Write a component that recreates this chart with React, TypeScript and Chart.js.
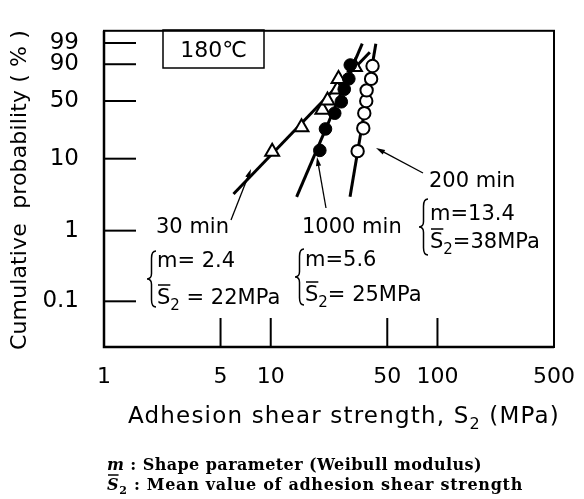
import React, { useEffect, useRef } from 'react';
import { Chart, registerables } from 'chart.js';

Chart.register(...registerables);

// ---------------- data ----------------
const yTickPercents = [0.1, 1, 10, 50, 90, 99];
const yTickLabels = ['0.1', '1', '10', '50', '90', '99'];
const xTickValues = [1, 5, 10, 50, 100, 500];
const xTickLabels = ['1', '5', '10', '50', '100', '500'];
const xInnerTicks = [5, 10, 50, 100];
const yRangePct = [0.0225, 99.895];
const xRange = [1, 500];

// 30 min (open triangles)
const s30 = [10.2, 15.3, 20.4, 21.9, 25.1, 25.5, 32.0];
const f30 = [12.4, 25.4, 40.6, 50.7, 63.6, 76.0, 87.8];
// 1000 min (filled circles)
const s1000 = [19.7, 21.3, 24.2, 26.5, 27.6, 29.4, 30.0];
const f1000 = [12.9, 24.3, 37.2, 49.1, 63.8, 76.1, 89.4];
// 200 min (open circles)
const s200 = [33.2, 35.9, 36.4, 37.4, 37.6, 40.0, 40.8];
const f200 = [12.6, 24.8, 37.2, 50.0, 62.5, 76.0, 88.6];

// fitted Weibull lines (end points)
const fit30S = [5.98, 39.3];
const fit30F = [3.27, 96.7];
const fit1000S = [14.3, 35.4];
const fit1000F = [2.99, 98.9];
const fit200S = [29.9, 42.7];
const fit200F = [2.99, 98.9];

// ---------------- helpers ----------------
const weib = (p: number) => Math.log(-Math.log(1 - p / 100));
const pts = (s: number[], f: number[]) => s.map((v, i) => ({ x: v, y: weib(f[i]) }));

const SANS = '"DejaVu Sans", sans-serif';
const SERIF = '"DejaVu Serif", "Liberation Serif", serif';

type Piece = { text: string; font: string; dy?: number; overline?: boolean };

function drawRun(ctx: CanvasRenderingContext2D, pieces: Piece[], x: number, y: number, target?: number) {
  ctx.save();
  (ctx as any).letterSpacing = '0px';
  let natural = 0;
  let chars = 0;
  const widths = pieces.map((p) => {
    ctx.font = p.font;
    const w = ctx.measureText(p.text).width;
    natural += w;
    chars += p.text.length;
    return w;
  });
  const ls = target ? (target - natural) / Math.max(1, chars) : 0;
  let cx = x;
  pieces.forEach((p, i) => {
    ctx.font = p.font;
    (ctx as any).letterSpacing = ls + 'px';
    ctx.textBaseline = 'alphabetic';
    ctx.textAlign = 'left';
    ctx.fillText(p.text, cx, y + (p.dy || 0));
    const w = widths[i] + ls * p.text.length;
    if (p.overline) {
      const m = ctx.measureText(p.text);
      const top = y + (p.dy || 0) - m.actualBoundingBoxAscent - 3;
      ctx.lineWidth = 1.5;
      ctx.beginPath();
      ctx.moveTo(cx + 1, top);
      ctx.lineTo(cx + widths[i], top);
      ctx.stroke();
    }
    cx += w;
  });
  ctx.restore();
  return cx;
}

function drawBrace(ctx: CanvasRenderingContext2D, x: number, yTop: number, yBot: number, w: number) {
  const ym = (yTop + yBot) / 2;
  const xm = x + w * 0.5;
  ctx.save();
  ctx.lineWidth = 1.5;
  ctx.beginPath();
  ctx.moveTo(x + w, yTop);
  ctx.quadraticCurveTo(xm, yTop, xm, yTop + w * 0.8);
  ctx.lineTo(xm, ym - w * 0.6);
  ctx.quadraticCurveTo(xm, ym, x, ym);
  ctx.quadraticCurveTo(xm, ym, xm, ym + w * 0.6);
  ctx.lineTo(xm, yBot - w * 0.8);
  ctx.quadraticCurveTo(xm, yBot, x + w, yBot);
  ctx.stroke();
  ctx.restore();
}

function drawArrow(ctx: CanvasRenderingContext2D, x0: number, y0: number, x1: number, y1: number) {
  const a = Math.atan2(y1 - y0, x1 - x0);
  const len = 9;
  const hw = 2.6;
  ctx.save();
  ctx.lineWidth = 1.3;
  ctx.beginPath();
  ctx.moveTo(x0, y0);
  ctx.lineTo(x1 - Math.cos(a) * len * 0.8, y1 - Math.sin(a) * len * 0.8);
  ctx.stroke();
  ctx.beginPath();
  ctx.moveTo(x1, y1);
  ctx.lineTo(x1 - Math.cos(a) * len - Math.sin(a) * hw, y1 - Math.sin(a) * len + Math.cos(a) * hw);
  ctx.lineTo(x1 - Math.cos(a) * len + Math.sin(a) * hw, y1 - Math.sin(a) * len - Math.cos(a) * hw);
  ctx.closePath();
  ctx.fill();
  ctx.restore();
}

const ANN = 21;
const annFont = `${ANN}px ${SANS}`;
const subFont = `15px ${SANS}`;

const decor = {
  id: 'decor',
  afterDraw(chart: any) {
    const ctx: CanvasRenderingContext2D = chart.ctx;
    const { left, right, top, bottom } = chart.chartArea;
    const xs = chart.scales.x;
    const ys = chart.scales.y;
    ctx.save();
    ctx.strokeStyle = '#000';
    ctx.fillStyle = '#000';

    // frame
    ctx.lineWidth = 2;
    ctx.strokeRect(left, top, right - left, bottom - top);
    ctx.lineWidth = 2.5;
    ctx.beginPath();
    ctx.moveTo(left, top);
    ctx.lineTo(left, bottom);
    ctx.lineTo(right, bottom);
    ctx.stroke();

    // inward ticks
    ctx.lineWidth = 2;
    yTickPercents.forEach((p) => {
      const y = ys.getPixelForValue(weib(p));
      ctx.beginPath();
      ctx.moveTo(left, y);
      ctx.lineTo(left + 32, y);
      ctx.stroke();
    });
    xInnerTicks.forEach((v) => {
      const x = xs.getPixelForValue(v);
      ctx.beginPath();
      ctx.moveTo(x, bottom);
      ctx.lineTo(x, bottom - 29);
      ctx.stroke();
    });

    // 180℃ box
    ctx.lineWidth = 1.5;
    ctx.strokeRect(163, 30, 101, 38);
    ctx.font = `22px ${SANS}`;
    ctx.textAlign = 'center';
    ctx.textBaseline = 'alphabetic';
    ctx.fillText('180\u2103', 213.5, 57);

    // annotations: 30 min
    drawRun(ctx, [{ text: '30 min', font: annFont }], 156, 233);
    drawArrow(ctx, 231, 220, 251, 169);
    drawBrace(ctx, 147, 251, 307, 9);
    drawRun(ctx, [{ text: 'm= 2.4', font: annFont }], 157, 267);
    drawRun(ctx, [
      { text: 'S', font: annFont, overline: true },
      { text: '2', font: subFont, dy: 6 },
      { text: ' = 22MPa', font: annFont },
    ], 157, 304);

    // 1000 min
    drawRun(ctx, [{ text: '1000 min', font: annFont }], 302, 233);
    drawArrow(ctx, 326, 208, 317, 157);
    drawBrace(ctx, 295, 249, 305, 9);
    drawRun(ctx, [{ text: 'm=5.6', font: annFont }], 305, 266);
    drawRun(ctx, [
      { text: 'S', font: annFont, overline: true },
      { text: '2', font: subFont, dy: 6 },
      { text: '= 25MPa', font: annFont },
    ], 305, 301);

    // 200 min
    drawRun(ctx, [{ text: '200 min', font: annFont }], 429, 187);
    drawArrow(ctx, 423, 173, 376, 148);
    drawBrace(ctx, 419, 199, 255, 9);
    drawRun(ctx, [{ text: 'm=13.4', font: annFont }], 430, 220);
    drawRun(ctx, [
      { text: 'S', font: annFont, overline: true },
      { text: '2', font: subFont, dy: 6 },
      { text: '=38MPa', font: annFont },
    ], 430, 248);

    // x axis title
    drawRun(ctx, [
      { text: 'Adhesion shear strength, S', font: `23px ${SANS}` },
      { text: '2', font: `16px ${SANS}`, dy: 6 },
      { text: ' (MPa)', font: `23px ${SANS}` },
    ], 128, 423, 432);

    // y axis title
    ctx.save();
    ctx.translate(26, 350);
    ctx.rotate(-Math.PI / 2);
    drawRun(ctx, [{ text: 'Cumulative  probability ( % )', font: `22px ${SANS}` }], 0, 0, 320);
    ctx.restore();

    // footnotes
    drawRun(ctx, [
      { text: 'm', font: `italic bold 16px ${SERIF}` },
      { text: ' : Shape parameter (Weibull modulus)', font: `bold 16px ${SERIF}` },
    ], 107, 470, 375);
    drawRun(ctx, [
      { text: 'S', font: `italic bold 16px ${SERIF}`, overline: true },
      { text: '2', font: `bold 11px ${SERIF}`, dy: 4 },
      { text: ' : Mean value of adhesion shear strength', font: `bold 16px ${SERIF}` },
    ], 107, 490, 416);

    ctx.restore();
  },
};

export default function App() {
  const ref = useRef<HTMLCanvasElement | null>(null);
  useEffect(() => {
    if (!ref.current) return;
    const black = '#000';
    const chart = new Chart(ref.current, {
      type: 'scatter',
      data: {
        datasets: [
          {
            label: '200 min',
            data: pts(s200, f200),
            pointStyle: 'circle',
            pointRadius: 6.2,
            pointBorderWidth: 2,
            pointBackgroundColor: '#fff',
            pointBorderColor: black,
            showLine: false,
            order: 0,
          },
          {
            label: '1000 min',
            data: pts(s1000, f1000),
            pointStyle: 'circle',
            pointRadius: 6.3,
            pointBorderWidth: 1,
            pointBackgroundColor: black,
            pointBorderColor: black,
            showLine: false,
            order: 0,
          },
          {
            label: '30 min',
            data: pts(s30, f30),
            pointStyle: 'triangle',
            pointRadius: 8,
            pointBorderWidth: 2,
            pointBackgroundColor: '#fff',
            pointBorderColor: black,
            showLine: false,
            order: 0,
          },
          {
            label: 'fit 30',
            data: pts(fit30S, fit30F),
            showLine: true,
            borderColor: black,
            borderWidth: 3,
            pointRadius: 0,
            order: 1,
          },
          {
            label: 'fit 1000',
            data: pts(fit1000S, fit1000F),
            showLine: true,
            borderColor: black,
            borderWidth: 3,
            pointRadius: 0,
            order: 1,
          },
          {
            label: 'fit 200',
            data: pts(fit200S, fit200F),
            showLine: true,
            borderColor: black,
            borderWidth: 3,
            pointRadius: 0,
            order: 1,
          },
        ],
      },
      options: {
        animation: false,
        responsive: false,
        devicePixelRatio: 1,
        layout: { padding: { left: 0, top: 11, right: 25, bottom: 0 } },
        plugins: { legend: { display: false }, tooltip: { enabled: false } },
        scales: {
          x: {
            type: 'logarithmic',
            min: xRange[0],
            max: xRange[1],
            grid: { display: false },
            border: { display: false },
            afterBuildTicks: (s: any) => {
              s.ticks = xTickValues.map((v) => ({ value: v }));
            },
            afterFit: (s: any) => {
              s.height = 152;
            },
            ticks: {
              callback: (_v: any, i: number) => xTickLabels[i],
              font: { family: SANS, size: 22 },
              color: black,
              padding: 9,
              maxRotation: 0,
              autoSkip: false,
            },
          },
          y: {
            type: 'linear',
            min: weib(yRangePct[0]),
            max: weib(yRangePct[1]),
            grid: { display: false },
            border: { display: false },
            afterBuildTicks: (s: any) => {
              s.ticks = yTickPercents.map((p) => ({ value: weib(p) }));
            },
            afterFit: (s: any) => {
              s.width = 104;
            },
            ticks: {
              callback: (_v: any, i: number) => yTickLabels[i],
              font: { family: SANS, size: 23 },
              color: black,
              padding: 17,
              autoSkip: false,
            },
          },
        },
      },
      plugins: [decor],
    } as any);
    return () => chart.destroy();
  }, []);
  return (
    <div style={{ position: 'fixed', left: 0, top: 0, width: 584, height: 499, background: '#fff' }}>
      <canvas ref={ref} width={584} height={499} style={{ display: 'block' }} />
    </div>
  );
}
